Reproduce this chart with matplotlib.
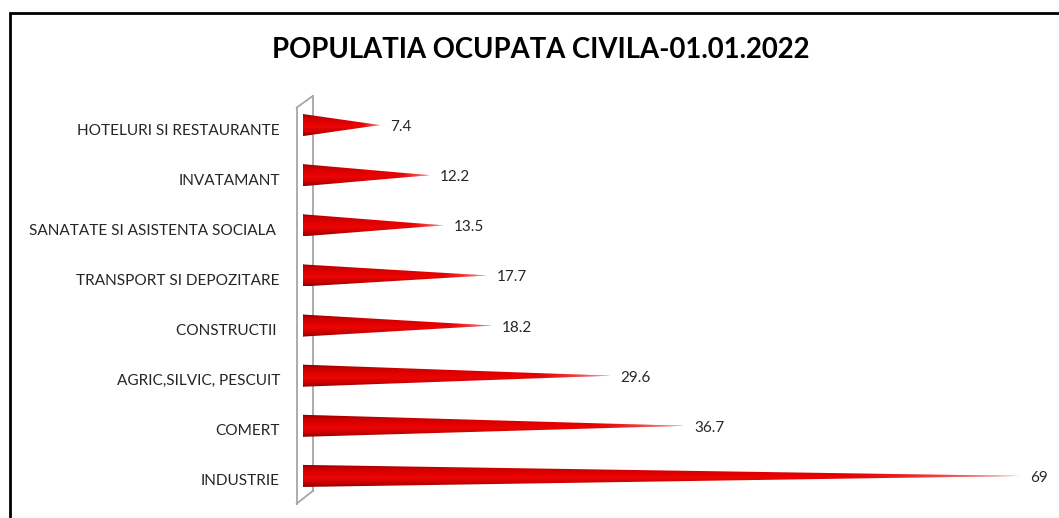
import matplotlib
matplotlib.use("Agg")
import matplotlib.pyplot as plt
import numpy as np
from matplotlib.patches import Polygon, Ellipse, Rectangle
from matplotlib.colors import LinearSegmentedColormap

categories = ["INDUSTRIE", "COMERT", "AGRIC,SILVIC, PESCUIT", "CONSTRUCTII ",
              "TRANSPORT SI DEPOZITARE", "SANATATE SI ASISTENTA SOCIALA ",
              "INVATAMANT", "HOTELURI SI RESTAURANTE"]
values = [69, 36.7, 29.6, 18.2, 17.7, 13.5, 12.2, 7.4]
value_labels = ["69", "36.7", "29.6", "18.2", "17.7", "13.5", "12.2", "7.4"]
title = "POPULATIA OCUPATA CIVILA-01.01.2022"

W, H = 1059, 518
fig = plt.figure(figsize=(W / 100, H / 100), dpi=100)
fig.patch.set_facecolor("white")

# border (right and bottom edges lie outside the image)
fig.add_artist(Rectangle((10 / W, -0.2), 1.3, 1.2 - 13 / H, transform=fig.transFigure,
                         fill=False, edgecolor="black", linewidth=2, clip_on=False))

# axes: 0 -> x=303px, 69 -> x=1020px ; rows centered from y=476 (bottom) to 125 (top)
x0, x1 = 303, 1020
ytop, ybot = 100, 501
ax = fig.add_axes([x0 / W, (H - ybot) / H, (x1 - x0) / W, (ybot - ytop) / H])
ax.axis("off")

px = 69 / (x1 - x0)  # data units per pixel (x)

# 3D wall (thin parallelogram)
wall_dx = 16 * px
wc = "#a6a6a6"
ax.plot([-0.6, -0.6], [-0.5 - 0.05, 7.5 - 0.15], color=wc, lw=1.3, clip_on=False, zorder=1)
ax.plot([-0.6 + wall_dx, -0.6 + wall_dx], [-0.5 + 0.2, 7.5 + 0.08], color=wc, lw=1.3, clip_on=False, zorder=1)
ax.plot([-0.6, -0.6 + wall_dx], [7.5 - 0.15, 7.5 + 0.08], color=wc, lw=1.3, clip_on=False, zorder=1)
ax.plot([-0.6, -0.6 + wall_dx], [-0.5 - 0.05, -0.5 + 0.2], color=wc, lw=1.3, clip_on=False, zorder=1)

cmap = LinearSegmentedColormap.from_list("cone", [
    (0.0, "#8a0000"), (0.18, "#c80000"), (0.45, "#e60000"), (0.6, "#ea0606"),
    (0.82, "#cc0000"), (1.0, "#8c0000")])
grad = np.linspace(0, 1, 64).reshape(-1, 1) * np.ones((1, 64))

h = 0.22
ex = 3.0 * px
for i, (v, lab) in enumerate(zip(values, value_labels)):
    y = i
    poly = Polygon([(0, y - h), (v, y), (0, y + h)], closed=True, facecolor="none",
                   edgecolor="none", clip_on=False)
    ax.add_patch(poly)
    im = ax.imshow(grad, cmap=cmap, extent=(-ex, v, y - h, y + h), origin="upper",
                   aspect="auto", interpolation="bilinear", zorder=2)
    im.set_clip_path(poly)
    # fade near tip
    fade = np.zeros((2, 64, 4))
    fade[..., :3] = 1.0
    fade[..., 3] = np.clip((np.linspace(0, 1, 64) - 0.75) / 0.25, 0, 1) ** 1.5 * 0.6
    im2 = ax.imshow(fade, extent=(0, v, y - h, y + h), aspect="auto", zorder=3,
                    interpolation="bilinear")
    im2.set_clip_path(poly)
    el = Ellipse((0, y), 2 * ex, 2 * h, facecolor="none", edgecolor="none", zorder=2.5,
                 clip_on=False)
    ax.add_patch(el)
    el_im = ax.imshow(grad, cmap=cmap, extent=(-ex, ex, y - h, y + h), origin="upper",
                      aspect="auto", interpolation="bilinear", zorder=2.6)
    el_im.set_clip_path(el)
    ax.text(v + 10 * px, y - 0.04, lab, ha="left", va="center",
            fontsize=11, fontfamily="Lato", color="#262626", clip_on=False)
    ax.text(-23 * px, y - 0.11, categories[i], ha="right", va="center",
            fontsize=11.1, fontfamily="Lato", color="#262626", clip_on=False)

ax.set_xlim(0, 69)
ax.set_ylim(-0.5, len(categories) - 0.5)

fig.text(541 / W, 1 - 50 / H, title, ha="center", va="center", fontsize=19.8,
         fontweight="bold", fontfamily="Lato", color="black")

fig.savefig("out.png", dpi=100, facecolor="white")
